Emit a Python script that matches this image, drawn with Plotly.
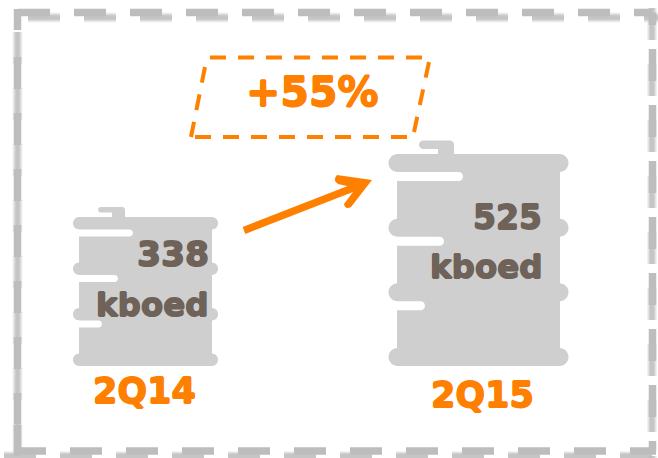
import plotly.graph_objects as go

periods = ["2Q14", "2Q15"]
kboed = [338, 525]
change_label = "+55%"

ORANGE = "#ff8000"
GREY = "#cfcfcf"
BROWN = "#6e6259"
DASH = "#bdbdbd"

# scales: 1 category step = 333 px, 1 kboed = 0.3369 px
XS = 333.0
YS = 0.3369
BOTTOM_PX = 366.0
BASE = 338 - 149 / YS
def px_x(p):
    return (p - 145.5) / XS
def px_y(p):
    return BASE + (BOTTOM_PX - p) / YS

x_range = [px_x(0), px_x(658)]
y_range = [px_y(458), px_y(0)]

body_half = [66.5 / XS, 81.5 / XS]
rim_half = [72.5 / XS, 90 / XS]
rim_px = [12.5, 18]

fig = go.Figure()
fig.add_trace(go.Bar(
    x=[0, 1], y=[v - BASE for v in kboed], base=BASE,
    width=[2 * b for b in body_half],
    marker=dict(color=GREY, line=dict(width=0)),
    hoverinfo="skip", showlegend=False,
))

shapes = []

def pill(x0_px, x1_px, ytop, h, color):
    rad = h / 2
    k = rad * 0.45
    X = px_x
    Y = px_y
    yb = ytop + h
    ym = ytop + rad
    p = (f"M {X(x0_px + rad)} {Y(ytop)} L {X(x1_px - rad)} {Y(ytop)} "
         f"C {X(x1_px - k)} {Y(ytop)} {X(x1_px)} {Y(ytop + k)} {X(x1_px)} {Y(ym)} "
         f"C {X(x1_px)} {Y(yb - k)} {X(x1_px - k)} {Y(yb)} {X(x1_px - rad)} {Y(yb)} "
         f"L {X(x0_px + rad)} {Y(yb)} "
         f"C {X(x0_px + k)} {Y(yb)} {X(x0_px)} {Y(yb - k)} {X(x0_px)} {Y(ym)} "
         f"C {X(x0_px)} {Y(ytop + k)} {X(x0_px + k)} {Y(ytop)} {X(x0_px + rad)} {Y(ytop)} Z")
    shapes.append(dict(type="path", path=p, fillcolor=color, line=dict(width=0), layer="above"))

highlight_end = [[133, 118, 102], [463, 444, 425]]
highlight_h = [7, 9]
cap_pill = [(98, 125, 5.5), (419, 454, 8.5)]
cap_stem_left = [112, 438]
cap_top = [207, 140.5]

for i, v in enumerate(kboed):
    top_px = BOTTOM_PX - (v - BASE) * YS
    h = BOTTOM_PX - top_px
    rh = rim_px[i]
    left = 145.5 + i * XS - rim_half[i] * XS
    right = 145.5 + i * XS + rim_half[i] * XS
    body_left = 145.5 + i * XS - body_half[i] * XS
    rims = [top_px + j / 3 * (h - rh) for j in range(4)]
    for y in rims:
        pill(left, right, y, rh, GREY)
    for j in range(3):
        pill(body_left - 12, highlight_end[i][j], rims[j] + rh, highlight_h[i], "#ffffff")
    a, b, ch = cap_pill[i]
    pill(a, b, cap_top[i], ch, GREY)
    shapes.append(dict(type="rect", layer="above", x0=px_x(cap_stem_left[i]), x1=px_x(b),
                       y0=px_y(cap_top[i] + 3), y1=px_y(top_px + 2),
                       fillcolor=GREY, line=dict(width=0)))

def seg(a, b, c, d, color, width, dash=None, op=1.0, layer="below"):
    ln = dict(color=color, width=width)
    if dash:
        ln["dash"] = dash
    shapes.append(dict(type="line", x0=px_x(a), y0=px_y(b), x1=px_x(c), y1=px_y(d),
                       line=ln, opacity=op, layer=layer))

D = "32px,24px"
# blurred ghost of the frame
for w, op in ((10, 0.18), (8, 0.28), (6, 0.45), (4, 0.55)):
    seg(28, 17.5, 680, 17.5, DASH, w, D, op)       # top
    seg(17.5, 32, 17.5, 470, DASH, w, D, op)       # left
    seg(652, 8, 652, 470, DASH, w, D, op)          # right
    seg(4, 456, 680, 456, DASH, w, D, op)          # bottom
# crisp frame
W = 7.5
seg(18, 12.5, 652, 12.5, DASH, W, D)               # top
seg(17.5, 9, 17.5, 30, DASH, W)                    # top-left corner
seg(17.5, 57, 17.5, 424, DASH, W, D)               # left
seg(652.5, 12.5, 652.5, 25, DASH, W)               # top-right corner
seg(652.5, 49, 652.5, 451, DASH, W, D)             # right
seg(17.5, 425, 17.5, 451, DASH, W)                 # bottom-left corner
seg(14, 451, 656, 451, DASH, W, D)                 # bottom

# +55% box: four separately dashed sides
B = "16px,12px"
BW = 4
seg(210, 57.5, 423, 57.5, ORANGE, BW, B, layer="above")
seg(195, 137, 407, 137, ORANGE, BW, B, layer="above")
seg(205, 67, 191, 137, ORANGE, BW, B, layer="above")
seg(429, 62, 414, 132, ORANGE, BW, B, layer="above")

# arrow
seg(244, 230.5, 358, 186, ORANGE, 7.5, layer="above")
X, Y = px_x, px_y
shapes.append(dict(type="path",
    path=(f"M {X(337)} {Y(175)} L {X(372)} {Y(180)} L {X(351)} {Y(207)} "
          f"Q {X(345)} {Y(210)} {X(344)} {Y(204)} L {X(356)} {Y(188)} "
          f"L {X(338)} {Y(184)} Q {X(332)} {Y(180)} {X(337)} {Y(175)} Z"),
    fillcolor=ORANGE, line=dict(width=0), layer="above"))

FONT = "DejaVu Sans"
ann = []
def text(x, y, t, size, color, anchor="center", thick=0.7):
    sh = f"{thick}px 0 0 {color}, -{thick}px 0 0 {color}, 0 {thick}px 0 {color}, 0 -{thick}px 0 {color}"
    ann.append(dict(x=x, y=y, text=t, showarrow=False, xanchor=anchor, yanchor="middle",
                    font=dict(family=FONT, size=size, color=color, weight=700, shadow=sh),
                    xref="x", yref="y"))

text(px_x(312), px_y(92), change_label, 41, ORANGE)
label_y = [391, 395]
label_x = [144, 482.5]
for i, p in enumerate(periods):
    text(px_x(label_x[i]), px_y(label_y[i]), p, 35, ORANGE)
value_right = [211, 544]
number_size = [34.5, 33]
number_y = [254, 217]
word_y = [305, 267]
word_right = [211, 545]
for i, v in enumerate(kboed):
    text(px_x(value_right[i]), px_y(number_y[i]), str(v), number_size[i], BROWN, "right")
    text(px_x(word_right[i]), px_y(word_y[i]), "kboed", 32.5, BROWN, "right")

fig.update_layout(
    width=658, height=458, margin=dict(l=0, r=0, t=0, b=0),
    paper_bgcolor="white", plot_bgcolor="white",
    xaxis=dict(range=x_range, visible=False, fixedrange=True),
    yaxis=dict(range=y_range, visible=False, fixedrange=True),
    shapes=shapes, annotations=ann, bargap=0,
)
fig.write_html("out.html", config={"displayModeBar": False},
               post_script="document.body.style.margin='0';")
